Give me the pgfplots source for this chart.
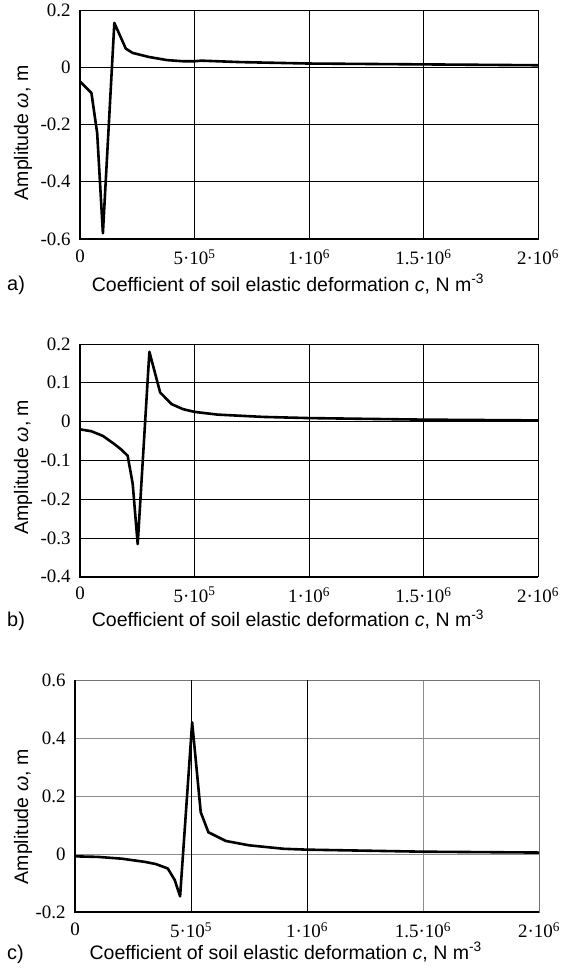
\documentclass[border=0pt]{standalone}
\usepackage{fontspec}
\setmainfont{Liberation Sans}
\newfontfamily\tnr{Liberation Serif}
\usepackage{pgfplots}
\pgfplotsset{compat=1.18}
\pgfplotsset{
  myax/.style={
    anchor=south west, scale only axis, clip=false,
    xmin=0, xmax=2e6,
    xtick={0,5e5,1e6,1.5e6,2e6},
    xticklabels={0,{5·10\textsuperscript{5}},{1·10\textsuperscript{6}},{1.5·10\textsuperscript{6}},{2·10\textsuperscript{6}}},
    scaled x ticks=false,
    tick style={draw=none},
    ticklabel style={font=\tnr\fontsize{19}{22}\selectfont},
    yticklabel style={xshift=-6bp},
    xticklabel style={yshift=-7bp},
    label style={font=\fontsize{19.6}{23}\selectfont},
    xlabel={Coefficient of soil elastic deformation \textit{c}, N m\textsuperscript{-3}},
    ylabel={Amplitude \textit{ω}, m},
    grid=major,
    major grid style={black, line width=0.8bp},
    axis line style={black, line width=0.8bp},
  },
  crv/.style={black, line width=2.6bp, line join=round, mark=none},
}
\begin{document}
\begin{tikzpicture}
\useasboundingbox (0bp,0bp) rectangle (569bp,-973bp);
% ---------- a)
\begin{axis}[myax, at={(80bp,-239bp)}, width=458bp, height=229bp,
  ymin=-0.6, ymax=0.2, ytick={-0.6,-0.4,-0.2,0,0.2}, yticklabels={-0.6,-0.4,-0.2,0,0.2},
  xlabel style={at={(axis description cs:0.454,0)}, anchor=base, yshift=-52bp},
  ylabel style={at={(axis description cs:0,0.463)}, anchor=center, yshift=57bp}]
\addplot[crv] coordinates {(0,-0.05) (0.5e5,-0.09) (0.75e5,-0.23) (1.0e5,-0.58) (1.5e5,0.155)
 (2.0e5,0.065) (2.3e5,0.05) (3e5,0.036) (3.8e5,0.025) (4.5e5,0.021) (5e5,0.021) (5.3e5,0.023)
 (7e5,0.018) (1e6,0.013) (1.5e6,0.01) (2e6,0.007)};
\draw[line width=2.2bp] (rel axis cs:0,1) -- (rel axis cs:0,0) -- (rel axis cs:1,0);
\end{axis}
\node[anchor=base west, inner sep=0pt, font=\fontsize{20}{24}\selectfont] at (7bp,-290bp) {a)};
% ---------- b)
\begin{axis}[myax, at={(80bp,-576.7bp)}, width=458bp, height=232.7bp,
  ymin=-0.4, ymax=0.2, ytick={-0.4,-0.3,-0.2,-0.1,0,0.1,0.2}, yticklabels={-0.4,-0.3,-0.2,-0.1,0,0.1,0.2},
  xlabel style={at={(axis description cs:0.454,0)}, anchor=base, yshift=-50bp},
  ylabel style={at={(axis description cs:0,0.471)}, anchor=center, yshift=57bp}]
\addplot[crv] coordinates {(0,-0.02) (0.5e5,-0.025) (1.0e5,-0.037) (1.5e5,-0.058) (1.8e5,-0.072)
 (2.08e5,-0.088) (2.3e5,-0.16) (2.52e5,-0.316) (3.03e5,0.18) (3.5e5,0.075) (4e5,0.045)
 (4.5e5,0.032) (5e5,0.025) (6e5,0.018) (7e5,0.015) (8e5,0.012) (1e6,0.009) (1.5e6,0.005) (2e6,0.003)};
\draw[line width=2.2bp] (rel axis cs:0,1) -- (rel axis cs:0,0) -- (rel axis cs:1,0);
\end{axis}
\node[anchor=base west, inner sep=0pt, font=\fontsize{20}{24}\selectfont] at (7bp,-626bp) {b)};
% ---------- c)
\begin{axis}[myax, at={(75bp,-912bp)}, width=464bp, height=232bp,
  ymin=-0.2, ymax=0.6, ytick={-0.2,0,0.2,0.4,0.6}, yticklabels={-0.2,0,0.2,0.4,0.6},
  major grid style={black!45, line width=0.8bp},
  axis line style={black!55, line width=0.8bp},
  xlabel style={at={(axis description cs:0.454,0)}, anchor=base, yshift=-47bp},
  ylabel style={at={(axis description cs:0,0.41)}, anchor=center, yshift=52bp}]
\addplot[crv] coordinates {(0,-0.008) (1e5,-0.01) (2e5,-0.016) (3e5,-0.027) (3.5e5,-0.035) (4e5,-0.05)
 (4.3e5,-0.09) (4.53e5,-0.146) (5.05e5,0.454) (5.42e5,0.144) (5.75e5,0.075) (6.5e5,0.045)
 (7.5e5,0.03) (9e5,0.018) (1e6,0.015) (1.5e6,0.008) (2e6,0.005)};
\draw[line width=1bp, black] (axis cs:5e5,-0.2) -- (axis cs:5e5,0.6);
\draw[line width=1bp, black] (axis cs:1e6,-0.2) -- (axis cs:1e6,0.6);
\draw[line width=2.2bp] (rel axis cs:0,1) -- (rel axis cs:0,0) -- (rel axis cs:1,0);
\end{axis}
\node[anchor=base west, inner sep=0pt, font=\fontsize{20}{24}\selectfont] at (7bp,-959bp) {c)};
\end{tikzpicture}
\end{document}
